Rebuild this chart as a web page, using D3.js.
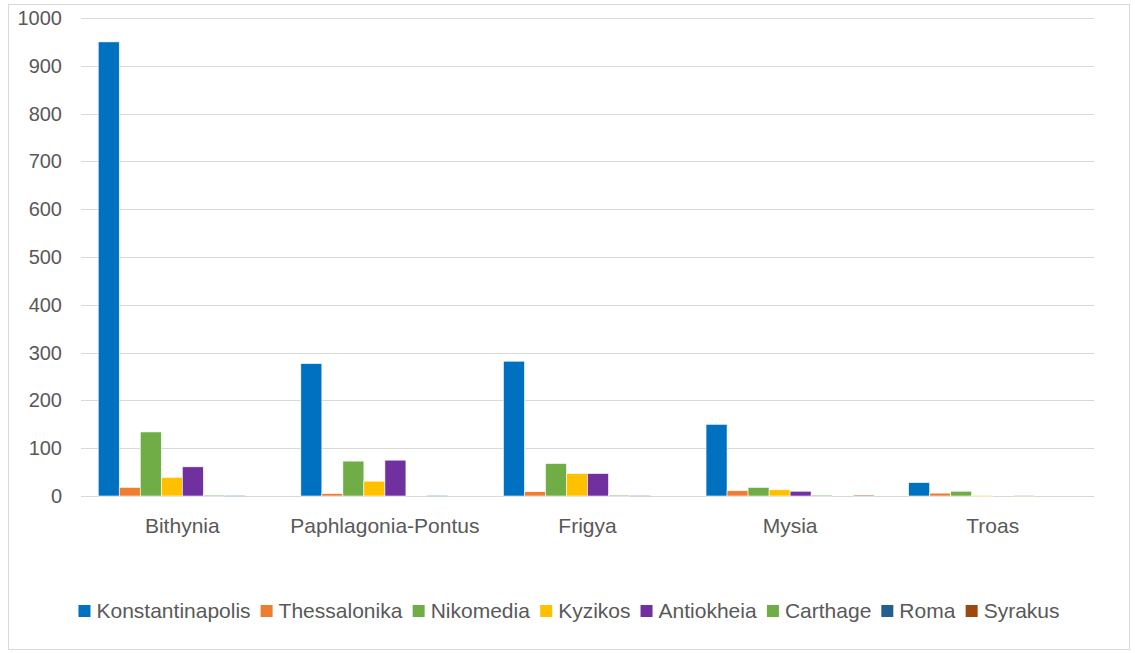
<!DOCTYPE html>
<html lang="en">
<head>
<meta charset="utf-8">
<script src="https://d3js.org/d3.v7.min.js"></script>
<style>
  body { margin: 0; background: #fff; }
  svg text { font-family: "Liberation Sans", Arial, sans-serif; fill: #595959; }
</style>
</head>
<body>
<svg id="chart" width="1135" height="653"></svg>
<script>
// data
var regions = ["Bithynia", "Paphlagonia-Pontus", "Frigya", "Mysia", "Troas"]
var cities = ["Konstantinapolis", "Thessalonika", "Nikomedia", "Kyzikos", "Antiokheia", "Carthage", "Roma", "Syrakus"]
var cityColors = ["#0070C0", "#ED7D31", "#70AD47", "#FFC000", "#7030A0", "#70AD47", "#255E91", "#9E480E"]
var konstantinapolis = [950, 277, 282, 150, 28]
var thessalonika = [18, 5, 9, 11, 6]
var nikomedia = [134, 73, 68, 18, 10]
var kyzikos = [39, 31, 47, 13, 1]
var antiokheia = [61, 75, 47, 10, 0]
var carthage = [2, 0, 2, 2, 1]
var roma = [1, 1, 1, 0, 0]
var syrakus = [0, 0, 0, 2, 0]
var yTicks = [0, 100, 200, 300, 400, 500, 600, 700, 800, 900, 1000]

var series = [konstantinapolis, thessalonika, nikomedia, kyzikos, antiokheia, carthage, roma, syrakus]

var svg = d3.select("#chart")

// outer chart border
svg.append("rect")
  .attr("x", 8.5).attr("y", 4.5).attr("width", 1121).attr("height", 645)
  .attr("fill", "none").attr("stroke", "#d9d9d9")

var x0 = d3.scaleBand().domain(regions).range([81, 1094]).paddingInner(0).paddingOuter(0)
var x1 = d3.scaleBand().domain(cities).range([0, x0.bandwidth()]).paddingOuter(0.82).paddingInner(0)
var y = d3.scaleLinear().domain([0, 1000]).range([496, 18])

// gridlines
svg.append("g").selectAll("line")
  .data(yTicks)
  .enter().append("line")
  .attr("x1", 81).attr("x2", 1094)
  .attr("y1", function(d) { return Math.round(y(d)) + 0.5 })
  .attr("y2", function(d) { return Math.round(y(d)) + 0.5 })
  .attr("stroke", "#d9d9d9").attr("stroke-width", 1.2)

// y labels
var yAxis = svg.append("g").attr("transform", "translate(62,0)")
  .call(d3.axisLeft(y).tickValues(yTicks).tickFormat(d3.format("d")).tickSize(0).tickPadding(0))
yAxis.select(".domain").remove()
yAxis.selectAll("text").style("font-size", "20px").attr("fill", "#595959")

// bars
var groups = svg.append("g").selectAll("g")
  .data(regions)
  .enter().append("g")
  .attr("transform", function(d) { return "translate(" + x0(d) + ",0)" })

groups.selectAll("rect")
  .data(function(d, i) { return cities.map(function(c, j) { return {city: c, value: series[j][i], color: cityColors[j]} }) })
  .enter().append("rect")
  .attr("x", function(d) { return x1(d.city) })
  .attr("width", x1.bandwidth())
  .attr("y", function(d) { return y(d.value) })
  .attr("height", function(d) { return Math.max(y(0) - y(d.value), d.value > 0 ? 1 : 0) })
  .attr("fill", function(d) { return d.color })
  .attr("stroke", "#ffffff").attr("stroke-width", 0.6)

// category labels
var xAxis = svg.append("g").attr("transform", "translate(0,518)")
  .call(d3.axisBottom(x0).tickSize(0).tickPadding(0))
xAxis.select(".domain").remove()
xAxis.selectAll("text").style("font-size", "21px").attr("fill", "#595959")

// legend
var legend = svg.append("g").attr("transform", "translate(0,611)")
var items = legend.selectAll("g").data(cities).enter().append("g")
items.append("rect")
  .attr("width", 12).attr("height", 12).attr("y", -6)
  .attr("fill", function(d, i) { return cityColors[i] })
items.append("text")
  .attr("x", 18).attr("dy", "0.35em")
  .style("font-size", "21px")
  .text(function(d) { return d })

var xpos = 0
items.each(function() {
  var w = this.getBBox().width
  d3.select(this).attr("transform", "translate(" + xpos + ",0)")
  xpos += w + 10
})
var total = xpos - 10
legend.attr("transform", "translate(" + (569 - total / 2) + ",611)")
</script>
</body>
</html>
